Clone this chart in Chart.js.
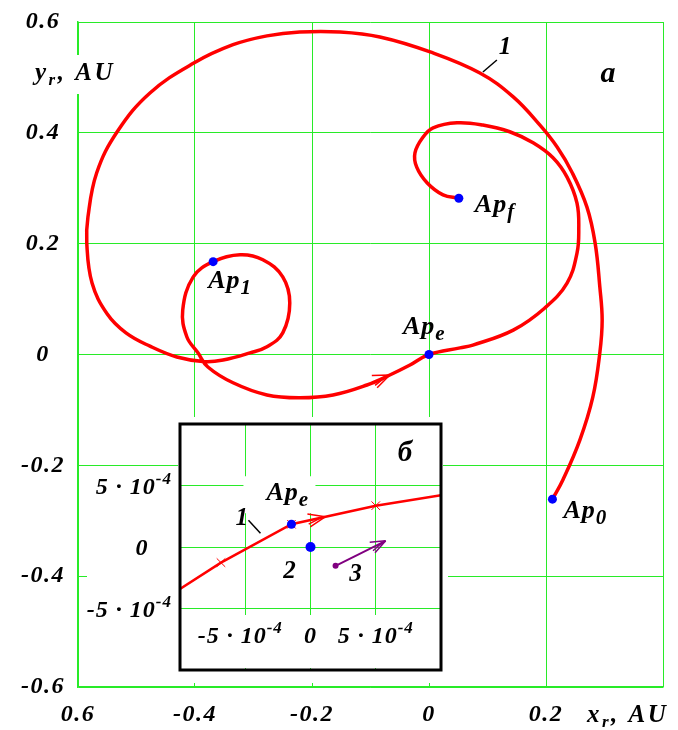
<!DOCTYPE html>
<html>
<head>
<meta charset="utf-8">
<script src="https://cdn.jsdelivr.net/npm/chart.js@4"></script>
<style>
  body { margin: 0; background: #fff; }
  #wrap { position: relative; width: 678px; height: 730px; }
  #inset { position: absolute; left: 87px; top: 417px; }
</style>
</head>
<body>
<div id="wrap">
  <canvas id="main" width="678" height="730"></canvas>
  <canvas id="inset" width="361" height="266"></canvas>
</div>
<script>
// trajectory in the rotating frame, AU (curve 1)
var trajX = [0.211, 0.229, 0.258, 0.280, 0.292, 0.296, 0.292, 0.284, 0.270, 0.2444, 0.219, 0.1897, 0.144, 0.087, 0.002,
  -0.084, -0.152, -0.221, -0.277, -0.335, -0.402, -0.477, -0.533, -0.568, -0.583, -0.585, -0.576, -0.550, -0.518, -0.477,
  -0.431, -0.383, -0.352, -0.306, -0.277, -0.250, -0.238, -0.250, -0.284, -0.323, -0.369, -0.403, -0.421, -0.414, -0.395,
  -0.378, -0.335, -0.277, -0.2205, -0.164, -0.106, -0.067, -0.0325, 0.000, 0.053, 0.075, 0.144, 0.198, 0.236, 0.253,
  0.256, 0.253, 0.236, 0.212, 0.178, 0.138, 0.092, 0.048, 0.007, -0.010, -0.024, -0.021, -0.003, 0.024, 0.051];
var trajY = [-0.261, -0.226, -0.154, -0.077, 0.003, 0.062, 0.122, 0.201, 0.266, 0.329, 0.3745, 0.414, 0.465, 0.508, 0.546,
  0.573, 0.582, 0.582, 0.575, 0.559, 0.526, 0.472, 0.402, 0.328, 0.248, 0.201, 0.129, 0.073, 0.039, 0.015,
  -0.0045, -0.013, -0.010, 0.003, 0.014, 0.039, 0.093, 0.140, 0.171, 0.180, 0.1675, 0.140, 0.080, 0.032, 0.003,
  -0.0225, -0.051, -0.073, -0.078, -0.073, -0.055, -0.037, -0.019, 0.000, 0.012, 0.017, 0.044, 0.084, 0.129, 0.183,
  0.225, 0.273, 0.320, 0.355, 0.382, 0.402, 0.414, 0.418, 0.409, 0.3925, 0.364, 0.338, 0.3095, 0.288, 0.282];

// marked points Ap0, Ap1, Ape, Apf
var apNames = ['0', '1', 'e', 'f'];
var apX = [0.211, -0.369, 0.000, 0.051];
var apY = [-0.261, 0.1675, 0.000, 0.282];

var xTicks = [-0.6, -0.4, -0.2, 0, 0.2, 0.4];
var yTicks = [-0.6, -0.4, -0.2, 0, 0.2, 0.4, 0.6];

// inset (б), AU
var insetX = [-1.0e-3, -6.86e-4, -1.46e-4, 5.0e-4, 1.0e-3];
var insetY = [-3.41e-4, -1.27e-4, 1.85e-4, 3.36e-4, 4.2e-4];
var crossX = [-6.86e-4, -1.46e-4, 5.0e-4];
var crossY = [-1.27e-4, 1.85e-4, 3.36e-4];
var apeInX = [-1.46e-4], apeInY = [1.85e-4];
var pt2X = [0], pt2Y = [0];
var path3X = [1.92e-4, 5.76e-4];
var path3Y = [-1.53e-4, 0.5e-4];
var insetTicks = [-1e-3, -5e-4, 0, 5e-4, 1e-3];
var insetLabelTicks = [-5e-4, 0, 5e-4];

var GREEN = 'rgb(40, 235, 40)';
var RED = '#ff0000';
var BLUE = '#0000ff';
var PURPLE = '#800080';
var FAM = '"Liberation Serif", "Times New Roman", serif';

function pts(xs, ys) {
  return xs.map(function (x, i) { return { x: x, y: ys[i] }; });
}

// text with subscripts / superscripts: parts = [[text, size, dy], ...]
function rich(ctx, x, y, parts, align, spacing) {
  ctx.letterSpacing = (spacing || 0) + 'px';
  var w = 0;
  parts.forEach(function (p) {
    ctx.font = 'italic bold ' + p[1] + 'px ' + FAM;
    w += ctx.measureText(p[0]).width;
  });
  var cx = align === 'center' ? x - w / 2 : (align === 'right' ? x - w : x);
  ctx.textAlign = 'left';
  ctx.textBaseline = 'alphabetic';
  ctx.fillStyle = '#000';
  parts.forEach(function (p) {
    ctx.font = 'italic bold ' + p[1] + 'px ' + FAM;
    ctx.fillText(p[0], cx, y + (p[2] || 0));
    cx += ctx.measureText(p[0]).width;
  });
  ctx.letterSpacing = '0px';
  return w;
}

function arrow(ctx, x0, y0, x1, y1, len, color, width) {
  var a = Math.atan2(y1 - y0, x1 - x0);
  ctx.save();
  ctx.strokeStyle = color;
  ctx.lineWidth = width;
  ctx.beginPath();
  [-0.38, 0.38].forEach(function (d) {
    ctx.moveTo(x1, y1);
    ctx.lineTo(x1 - len * Math.cos(a + d), y1 - len * Math.sin(a + d));
  });
  ctx.moveTo(x1 - 4 * Math.cos(a), y1 - 4 * Math.sin(a));
  ctx.lineTo(x1 - len * Math.cos(a - 0.2), y1 - len * Math.sin(a - 0.2));
  ctx.stroke();
  ctx.restore();
}

function sup(v) {
  if (v === 0) return [['0', 24]];
  return [[(v < 0 ? '-' : '') + '5 \u00b7 10', 24], ['-4', 17, -10]];
}

var tickFont = { family: FAM, size: 24, style: 'italic', weight: 'bold' };

var spacing = {
  id: 'spacing',
  beforeDraw: function (chart) { chart.ctx.letterSpacing = '1.5px'; }
};

var mainLabels = {
  id: 'mainLabels',
  beforeDatasetsDraw: function (chart) {
    var ctx = chart.ctx;
    ctx.save();
    ctx.fillStyle = '#fff';
    ctx.fillRect(33, 55, 90, 39);
    rich(ctx, 35, 80, [['y', 25], ['r', 17, 5], [', AU', 25]], 'left', 2.5);
    ctx.restore();
  },
  afterDatasetsDraw: function (chart) {
    var ctx = chart.ctx, sx = chart.scales.x, sy = chart.scales.y;
    ctx.save();
    var offs = [[11, 19], [-5, 26], [-26, -21], [16, 14]];
    apNames.forEach(function (n, i) {
      var px = sx.getPixelForValue(apX[i]), py = sy.getPixelForValue(apY[i]);
      rich(ctx, px + offs[i][0], py + offs[i][1], [['Ap', 26], [n, 21, 6]], 'left', 1);
    });
    // direction arrow on the arc before Ape
    arrow(ctx, sx.getPixelForValue(trajX[50]), sy.getPixelForValue(trajY[50]),
      sx.getPixelForValue(trajX[51]), sy.getPixelForValue(trajY[51]), 18, RED, 1.5);
    // curve number with leader
    var lx = sx.getPixelForValue(trajX[13]), ly = sy.getPixelForValue(trajY[13]);
    ctx.strokeStyle = '#000';
    ctx.lineWidth = 1.5;
    ctx.beginPath();
    ctx.moveTo(lx + 3, ly - 1);
    ctx.lineTo(lx + 17, ly - 13);
    ctx.stroke();
    rich(ctx, lx + 25, ly - 19, [['1', 25]], 'center');
    var ca = chart.chartArea;
    rich(ctx, ca.right - 55, ca.top + 60, [['\u0430', 30]], 'center');
    rich(ctx, 587, 722, [['x', 25], ['r', 17, 5], [', AU', 25]], 'left', 2.5);
    ctx.restore();
  }
};

new Chart(document.getElementById('main'), {
  type: 'scatter',
  data: {
    datasets: [
      { data: pts(trajX, trajY), showLine: true, borderColor: RED, borderWidth: 3.5, pointRadius: 0,
        tension: 0.4, borderCapStyle: 'round', borderJoinStyle: 'round', order: 2 },
      { data: pts(apX, apY), pointRadius: 4.5, pointBackgroundColor: BLUE, pointBorderWidth: 0, order: 1 }
    ]
  },
  options: {
    responsive: false,
    animation: false,
    events: [],
    layout: { padding: { top: 22, right: 15, left: 0, bottom: 0 } },
    plugins: { legend: { display: false }, tooltip: { enabled: false } },
    scales: {
      x: {
        type: 'linear', min: -0.6, max: 0.4,
        afterBuildTicks: function (s) { s.ticks = xTicks.map(function (v) { return { value: v }; }); },
        afterFit: function (s) { s.height = 43; s.paddingLeft = 0; s.paddingRight = 0; },
        grid: { color: GREEN, lineWidth: 1, drawTicks: false },
        border: { color: GREEN, width: 1.5 },
        ticks: {
          font: tickFont, color: '#000', padding: 13, maxRotation: 0,
          callback: function (v) {
            if (v === 0.4) return '';
            if (v === -0.6) return '0.6';
            return v === 0 ? '0' : v.toFixed(1);
          }
        }
      },
      y: {
        type: 'linear', min: -0.6, max: 0.6,
        afterBuildTicks: function (s) { s.ticks = yTicks.map(function (v) { return { value: v }; }); },
        afterFit: function (s) { s.width = 78; s.paddingTop = 0; s.paddingBottom = 0; },
        grid: { color: GREEN, lineWidth: 1, drawTicks: false },
        border: { color: GREEN, width: 1.5 },
        ticks: {
          font: tickFont, color: '#000', padding: 16, crossAlign: 'center',
          callback: function (v) { return v === 0 ? '0' : v.toFixed(1); }
        }
      }
    }
  },
  plugins: [spacing, mainLabels]
});

var insetDeco = {
  id: 'insetDeco',
  beforeDraw: function (chart) {
    var ctx = chart.ctx, ca = chart.chartArea;
    ctx.save();
    ctx.fillStyle = '#fff';
    ctx.fillRect(0, 50, chart.width, chart.height - 50);
    ctx.fillRect(ca.left - 2, 0, ca.right - ca.left + 4, 50);
    ctx.restore();
  },
  beforeDatasetsDraw: function (chart) {
    var ctx = chart.ctx, ca = chart.chartArea, sx = chart.scales.x, sy = chart.scales.y;
    ctx.save();
    ctx.fillStyle = '#fff';
    ctx.fillRect(ca.left + 2, 198, ca.right - ca.left - 4, ca.bottom - 200);
    // white box behind the Ape label
    var ax = sx.getPixelForValue(apeInX[0]), ay = sy.getPixelForValue(apeInY[0]);
    ctx.fillRect(ax - 48, ay - 48, 72, 37);
    ctx.restore();
  },
  afterDatasetsDraw: function (chart) {
    var ctx = chart.ctx, ca = chart.chartArea, sx = chart.scales.x, sy = chart.scales.y;
    ctx.save();
    // arrow on curve 1 just after Ape
    var a0x = sx.getPixelForValue(crossX[1]), a0y = sy.getPixelForValue(crossY[1]);
    var a1x = sx.getPixelForValue(crossX[2]), a1y = sy.getPixelForValue(crossY[2]);
    var tx = a0x + 0.4 * (a1x - a0x), ty = a0y + 0.4 * (a1y - a0y);
    arrow(ctx, a0x, a0y, tx, ty, 18, RED, 1.5);
    // arrow at end of path 3
    var p0x = sx.getPixelForValue(path3X[0]), p0y = sy.getPixelForValue(path3Y[0]);
    var p1x = sx.getPixelForValue(path3X[1]), p1y = sy.getPixelForValue(path3Y[1]);
    arrow(ctx, p0x, p0y, p1x, p1y, 16, PURPLE, 1.5);
    // frame
    ctx.strokeStyle = '#000';
    ctx.lineWidth = 3;
    ctx.strokeRect(ca.left, ca.top, ca.right - ca.left, ca.bottom - ca.top);
    // tick labels
    insetLabelTicks.forEach(function (v) {
      rich(ctx, sx.getPixelForValue(v) - (v < 0 ? 5 : 0), 226, sup(v), 'center', 1);
      var py = sy.getPixelForValue(v) + 8;
      if (v === 0) rich(ctx, 55, py, sup(v), 'center', 1);
      else rich(ctx, 85, py, sup(v), 'right', 1);
    });
    // labels
    var ax = sx.getPixelForValue(apeInX[0]), ay = sy.getPixelForValue(apeInY[0]);
    rich(ctx, ax - 25, ay - 24, [['Ap', 26], ['e', 21, 6]], 'left', 1);
    rich(ctx, ax - 56, ay + 1, [['1', 25]], 'left');
    ctx.strokeStyle = '#000';
    ctx.lineWidth = 1.5;
    ctx.beginPath();
    ctx.moveTo(ax - 43, ay - 4);
    ctx.lineTo(ax - 31, ay + 9);
    ctx.stroke();
    var ox = sx.getPixelForValue(pt2X[0]), oy = sy.getPixelForValue(pt2Y[0]);
    rich(ctx, ox - 21, oy + 31, [['2', 25]], 'center');
    rich(ctx, p0x + 20, p0y + 15, [['3', 25]], 'center');
    rich(ctx, ca.right - 36, ca.top + 37, [['\u0431', 29]], 'center');
    ctx.restore();
  }
};

new Chart(document.getElementById('inset'), {
  type: 'scatter',
  data: {
    datasets: [
      { data: pts(insetX, insetY), showLine: true, borderColor: RED, borderWidth: 2.5, pointRadius: 0, tension: 0, order: 4 },
      { data: pts(crossX, crossY), pointStyle: 'crossRot', pointRadius: 6, borderColor: RED, borderWidth: 1, order: 3 },
      { data: pts(path3X, path3Y), showLine: true, borderColor: PURPLE, borderWidth: 2,
        pointRadius: [3, 0], pointBackgroundColor: PURPLE, pointBorderWidth: 0, order: 2 },
      { data: pts(apeInX, apeInY), pointRadius: 4.5, pointBackgroundColor: BLUE, pointBorderWidth: 0, order: 1 },
      { data: pts(pt2X, pt2Y), pointRadius: 5, pointBackgroundColor: BLUE, pointBorderWidth: 0, order: 1 }
    ]
  },
  options: {
    responsive: false,
    animation: false,
    events: [],
    layout: { padding: { top: 2, right: 5, left: 0, bottom: 13 } },
    plugins: { legend: { display: false }, tooltip: { enabled: false } },
    scales: {
      x: {
        type: 'linear', min: -1e-3, max: 1e-3,
        afterBuildTicks: function (s) { s.ticks = insetTicks.map(function (v) { return { value: v }; }); },
        afterFit: function (s) { s.height = 0; },
        grid: { color: GREEN, lineWidth: 1, drawTicks: false },
        border: { display: false },
        ticks: { display: false }
      },
      y: {
        type: 'linear', min: -1e-3, max: 1e-3,
        afterBuildTicks: function (s) { s.ticks = insetTicks.map(function (v) { return { value: v }; }); },
        afterFit: function (s) { s.width = 93; },
        grid: { color: GREEN, lineWidth: 1, drawTicks: false },
        border: { display: false },
        ticks: { display: false }
      }
    }
  },
  plugins: [insetDeco]
});
</script>
</body>
</html>
